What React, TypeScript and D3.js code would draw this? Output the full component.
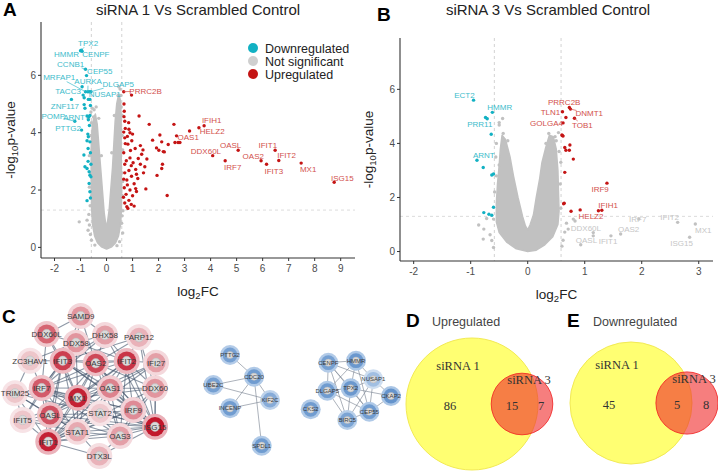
import React from "react";
import * as d3 from "d3";

type P = [number, number];
type Lab = { g: string; x: number; y: number; lx: number; ly: number; k: string };

// ---------- A: siRNA 1 vs scrambled ----------
const upA: P[] = [
  [0.66, 5.43], [0.96, 5.31], [0.67, 5.0], [0.68, 4.75], [1.25, 4.58], [0.67, 4.56], [0.7, 4.4], [0.85, 4.35],
  [0.72, 4.15], [0.9, 4.0], [1.64, 4.29], [2.59, 4.29], [3.19, 4.06], [3.55, 4.17], [3.75, 4.24], [2.69, 3.89],
  [2.63, 3.66], [2.75, 3.66], [2.82, 3.66], [2.05, 3.92], [1.77, 3.74], [2.12, 3.68], [2.37, 3.59], [1.92, 3.47],
  [2.01, 3.39], [2.18, 3.34], [5.06, 3.39], [4.08, 3.2], [4.56, 3.02], [5.94, 3.02], [6.15, 2.9], [6.48, 3.39],
  [6.62, 3.03], [7.48, 2.94], [8.75, 2.27], [2.33, 1.81], [1.51, 2.04], [1.94, 2.51], [2.15, 2.9], [2.12, 2.75],
  [2.22, 3.33], [1.47, 2.81], [1.55, 3.08], [1.35, 3.25], [1.3, 3.55], [1.1, 3.45], [0.92, 3.38], [0.7, 3.82],
  [0.8, 3.87], [0.72, 3.62], [0.97, 3.72], [0.66, 3.3], [0.76, 3.02], [0.9, 3.12], [1.02, 2.95], [1.12, 2.72],
  [0.86, 2.68], [0.7, 2.6], [0.66, 2.38], [0.96, 2.48], [1.2, 2.4], [1.06, 2.22], [0.8, 2.18], [0.68, 2.08],
  [0.9, 2.0], [1.12, 2.05], [0.75, 1.85], [1.0, 1.8], [0.86, 1.64], [0.7, 1.55], [0.95, 1.5], [1.06, 1.44],
  [0.82, 1.36], [0.78, 1.42], [1.3, 2.9], [1.42, 2.6], [1.22, 3.1], [0.66, 4.02], [0.86, 4.12], [1.0, 3.95],
  [0.78, 2.35], [0.95, 2.85], [1.15, 1.95], [0.65, 1.75], [1.15, 2.55], [0.7, 2.9], [1.4, 3.4], [0.82, 3.6],
];
const downA: P[] = [
  [-0.97, 6.88], [-1.0, 6.86], [-0.94, 6.84], [-0.81, 6.21], [-0.77, 5.99], [-0.94, 5.6], [-0.81, 5.43],
  [-0.72, 5.43], [-0.66, 5.43], [-0.6, 5.43], [-0.9, 5.31], [-0.86, 5.22], [-0.64, 5.16], [-0.7, 5.16],
  [-1.35, 5.16], [-0.86, 4.98], [-0.83, 4.85], [-0.62, 4.95], [-1.22, 4.4], [-0.75, 4.58], [-0.68, 4.56],
  [-0.64, 4.6], [-0.7, 4.45], [-0.96, 4.09], [-0.7, 3.86], [-0.64, 3.68], [-0.72, 3.95], [-0.75, 3.72],
  [-0.71, 3.45], [-0.87, 3.22], [-0.71, 3.0], [-0.83, 2.81], [-0.75, 2.75], [-0.67, 2.64], [-0.64, 2.52],
  [-0.6, 2.46], [-0.67, 2.23], [-0.64, 1.94], [-0.75, 1.63], [-0.62, 1.72], [-0.66, 4.25], [-0.62, 3.3], [-0.6, 2.9],
];
const nsA: P[] = [
  [-1.05, 0.89], [-0.75, 0.95], [-0.71, 0.6], [-0.66, 0.78], [-0.62, 0.45], [-0.68, 1.15], [-0.63, 1.45],
  [0.58, 0.84], [0.62, 0.5], [0.6, 1.1], [0.63, 1.28], [-0.7, 4.5], [-0.6, 4.72], [-0.55, 4.85], [-0.48, 4.8],
  [0.55, 5.3], [0.52, 5.52], [0.47, 5.6], [0.56, 4.9], [-0.4, 4.9], [-0.58, 0.25], [0.5, 0.2], [-0.45, 0.08],
  [0.4, 0.06], [-0.66, 3.2], [-0.66, 2.1], [0.62, 3.4], [0.62, 2.3], [-0.58, 4.35], [0.6, 4.6], [-0.5, 4.55],
  [0.44, 5.3], [-0.6, 3.9], [-0.6, 2.6], [-0.58, 1.8], [0.6, 3.9], [0.6, 2.6], [0.6, 1.8], [-0.3, 4.5],
  [0.3, 4.6], [-0.2, 3.2], [0.2, 3.3], [-0.55, 3.4], [0.55, 4.1],
];
// outline of the dense grey cloud (not significant genes)
const cloudA: P[] = [
  [0, -0.06], [-0.2, 0.02], [-0.34, 0.15], [-0.46, 0.4], [-0.54, 0.8], [-0.57, 1.3], [-0.59, 2.0], [-0.59, 2.8],
  [-0.59, 3.5], [-0.56, 4.1], [-0.5, 4.5], [-0.43, 4.65], [-0.36, 4.3], [-0.3, 3.6], [-0.23, 2.8], [-0.16, 2.0],
  [-0.09, 1.2], [-0.03, 0.8], [0, 0.72], [0.03, 0.85], [0.1, 1.3], [0.16, 2.0], [0.23, 2.8], [0.28, 3.6],
  [0.33, 4.4], [0.39, 5.0], [0.47, 5.35], [0.54, 5.1], [0.56, 4.5], [0.56, 3.6], [0.57, 2.8], [0.58, 2.0],
  [0.57, 1.3], [0.54, 0.8], [0.46, 0.4], [0.34, 0.15], [0.2, 0.02],
];
const labelsA: Lab[] = [
  { g: "TPX2", x: -0.97, y: 6.88, lx: -0.71, ly: 7.12, k: "d" },
  { g: "HMMR", x: -1.0, y: 6.86, lx: -1.54, ly: 6.75, k: "d" },
  { g: "CENPF", x: -0.94, y: 6.84, lx: -0.41, ly: 6.75, k: "d" },
  { g: "CCNB1", x: -0.81, y: 6.21, lx: -1.38, ly: 6.4, k: "d" },
  { g: "CEP55", x: -0.77, y: 5.99, lx: -0.26, ly: 6.16, k: "d" },
  { g: "MRFAP1", x: -0.81, y: 5.43, lx: -1.82, ly: 5.92, k: "d" },
  { g: "AURKA", x: -0.72, y: 5.43, lx: -0.71, ly: 5.78, k: "d" },
  { g: "DLGAP5", x: -0.6, y: 5.43, lx: 0.45, ly: 5.69, k: "d" },
  { g: "TACC3", x: -0.9, y: 5.31, lx: -1.48, ly: 5.43, k: "d" },
  { g: "NUSAP1", x: -0.66, y: 5.43, lx: -0.07, ly: 5.34, k: "d" },
  { g: "ZNF117", x: -1.35, y: 5.16, lx: -1.6, ly: 4.94, k: "d" },
  { g: "POMP", x: -1.22, y: 4.4, lx: -2.05, ly: 4.58, k: "d" },
  { g: "ARNT", x: -0.75, y: 4.58, lx: -1.25, ly: 4.53, k: "d" },
  { g: "PTTG2", x: -0.96, y: 4.09, lx: -1.48, ly: 4.17, k: "d" },
  { g: "PRRC2B", x: 0.66, y: 5.43, lx: 1.5, ly: 5.45, k: "u" },
  { g: "IFIH1", x: 3.75, y: 4.24, lx: 4.04, ly: 4.44, k: "u" },
  { g: "HELZ2", x: 3.55, y: 4.17, lx: 4.06, ly: 4.06, k: "u" },
  { g: "OAS1", x: 2.69, y: 3.89, lx: 3.14, ly: 3.86, k: "u" },
  { g: "DDX60L", x: 4.08, y: 3.2, lx: 3.82, ly: 3.36, k: "u" },
  { g: "OASL", x: 5.06, y: 3.39, lx: 4.77, ly: 3.57, k: "u" },
  { g: "IRF7", x: 4.56, y: 3.02, lx: 4.85, ly: 2.81, k: "u" },
  { g: "OAS2", x: 5.94, y: 3.02, lx: 5.64, ly: 3.18, k: "u" },
  { g: "IFIT3", x: 6.15, y: 2.9, lx: 6.43, ly: 2.67, k: "u" },
  { g: "IFIT1", x: 6.48, y: 3.39, lx: 6.2, ly: 3.56, k: "u" },
  { g: "IFIT2", x: 6.62, y: 3.03, lx: 6.92, ly: 3.21, k: "u" },
  { g: "MX1", x: 7.48, y: 2.94, lx: 7.75, ly: 2.72, k: "u" },
  { g: "ISG15", x: 8.75, y: 2.27, lx: 9.06, ly: 2.43, k: "u" },
];

// ---------- B: siRNA 3 vs scrambled ----------
const upB: P[] = [
  [0.73, 5.33], [0.75, 5.27], [0.61, 5.17], [0.67, 4.96], [0.62, 4.76], [0.82, 4.93], [0.6, 4.31], [0.62, 4.27],
  [0.65, 3.85], [0.74, 3.94], [0.73, 3.75], [0.67, 3.75], [0.8, 3.42], [0.65, 2.93], [1.39, 2.53], [0.64, 1.79],
  [0.63, 1.77], [0.76, 1.49], [0.92, 1.54], [1.3, 1.53], [1.24, 1.51], [0.61, 4.29],
];
const downB: P[] = [
  [-0.95, 5.6], [-0.62, 5.15], [-0.74, 4.96], [-0.71, 4.91], [-0.64, 4.34], [-0.89, 3.38], [-0.78, 3.11],
  [-0.63, 2.83], [-0.6, 2.87], [-0.6, 1.64], [-0.77, 1.44], [-0.68, 1.38], [-0.63, 1.34],
];
const nsB: P[] = [
  [-0.86, 0.98], [-0.77, 0.83], [-0.78, 0.46], [-0.63, 0.41], [-0.66, 0.62], [-0.6, 1.2], [-0.72, 1.22],
  [0.68, 1.05], [0.8, 1.2], [0.83, 1.13], [0.65, 0.72], [0.62, 0.42], [0.71, 0.83], [0.93, 0.25], [1.15, 0.7],
  [1.15, 0.58], [1.46, 0.58], [1.63, 0.65], [1.95, 1.2], [2.63, 1.08], [2.94, 1.02], [2.84, 0.53], [-0.44, 4.92],
  [-0.5, 4.68], [-0.5, 4.77], [-0.43, 4.37], [0.37, 4.37], [0.48, 4.25], [0.54, 4.4], [0.5, 4.1], [-0.55, 4.0],
  [0.58, 1.6], [-0.58, 2.2], [0.6, 0.2], [-0.6, 0.15], [0.58, 3.3], [-0.56, 3.5], [-0.55, 2.8], [0.57, 2.5],
  [-0.5, 3.2], [0.55, 3.7], [-0.35, 4.1], [0.32, 4.0],
];
const cloudB: P[] = [
  [0, 0.0], [-0.2, 0.1], [-0.37, 0.35], [-0.5, 0.7], [-0.55, 1.1], [-0.55, 1.8], [-0.53, 2.5], [-0.5, 3.2],
  [-0.48, 3.8], [-0.45, 4.3], [-0.39, 4.15], [-0.31, 3.5], [-0.25, 2.8], [-0.17, 2.0], [-0.09, 1.3], [-0.04, 0.95],
  [0, 0.8], [0.04, 0.98], [0.1, 1.35], [0.15, 2.0], [0.21, 2.7], [0.25, 3.3], [0.31, 3.8], [0.38, 4.3],
  [0.45, 4.25], [0.5, 3.8], [0.53, 3.0], [0.54, 2.2], [0.55, 1.5], [0.53, 1.0], [0.44, 0.55], [0.3, 0.25], [0.15, 0.05],
];
const labelsB: Lab[] = [
  { g: "ECT2", x: -0.95, y: 5.6, lx: -1.11, ly: 5.78, k: "d" },
  { g: "HMMR", x: -0.62, y: 5.15, lx: -0.49, ly: 5.33, k: "d" },
  { g: "PRR11", x: -0.74, y: 4.96, lx: -0.84, ly: 4.7, k: "d" },
  { g: "ARNT", x: -0.89, y: 3.38, lx: -0.77, ly: 3.58, k: "d" },
  { g: "PRRC2B", x: 0.73, y: 5.33, lx: 0.64, ly: 5.51, k: "u" },
  { g: "TLN1", x: 0.61, y: 5.17, lx: 0.4, ly: 5.17, k: "u" },
  { g: "DNMT1", x: 0.75, y: 5.27, lx: 1.08, ly: 5.11, k: "u" },
  { g: "GOLGA4", x: 0.62, y: 4.76, lx: 0.33, ly: 4.76, k: "u" },
  { g: "TOB1", x: 0.82, y: 4.93, lx: 0.96, ly: 4.68, k: "u" },
  { g: "IRF9", x: 1.39, y: 2.53, lx: 1.27, ly: 2.3, k: "u" },
  { g: "IFIH1", x: 1.3, y: 1.53, lx: 1.41, ly: 1.71, k: "u" },
  { g: "HELZ2", x: 1.24, y: 1.51, lx: 1.11, ly: 1.31, k: "u" },
  { g: "DDX60L", x: 0.71, y: 0.83, lx: 1.02, ly: 0.86, k: "n" },
  { g: "OASL", x: 0.93, y: 0.25, lx: 1.03, ly: 0.41, k: "n" },
  { g: "IFIT1", x: 1.46, y: 0.58, lx: 1.41, ly: 0.37, k: "n" },
  { g: "OAS2", x: 1.63, y: 0.65, lx: 1.77, ly: 0.83, k: "n" },
  { g: "IRF7", x: 1.95, y: 1.2, lx: 1.93, ly: 1.2, k: "n" },
  { g: "IFIT2", x: 2.63, y: 1.08, lx: 2.49, ly: 1.27, k: "n" },
  { g: "ISG15", x: 2.84, y: 0.53, lx: 2.7, ly: 0.3, k: "n" },
  { g: "MX1", x: 2.94, y: 1.02, lx: 3.08, ly: 0.78, k: "n" },
];

// ---------- C: STRING networks (layout coords, ring intensity) ----------
const redNodes = [
  { id: "SAMD9", x: 80.7, y: 316, v: 0.35 }, { id: "DDX60L", x: 46.7, y: 334, v: 0.6 },
  { id: "DHX58", x: 105, y: 335, v: 0.3 }, { id: "PARP12", x: 139, y: 337.3, v: 0.2 },
  { id: "DDX58", x: 76, y: 342.7, v: 0.35 }, { id: "ZC3HAV1", x: 30, y: 360.7, v: 0.1 },
  { id: "IFIT3", x: 62.7, y: 360.7, v: 0.8 }, { id: "OAS2", x: 95.7, y: 363.3, v: 0.75 },
  { id: "IFIT2", x: 126.7, y: 361, v: 0.85 }, { id: "IFI27", x: 156, y: 362.7, v: 0.3 },
  { id: "IRF7", x: 41.7, y: 388, v: 0.65 }, { id: "TRIM25", x: 15, y: 393.3, v: 0.1 },
  { id: "OAS1", x: 110, y: 388.3, v: 0.45 }, { id: "DDX60", x: 155, y: 388.3, v: 0.35 },
  { id: "MX1", x: 77.7, y: 397.7, v: 0.95 }, { id: "OASL", x: 50, y: 415, v: 0.7 },
  { id: "STAT2", x: 100, y: 413.3, v: 0.08 }, { id: "IRF9", x: 133.3, y: 410, v: 0.4 },
  { id: "IFIT5", x: 22.7, y: 420, v: 0.1 }, { id: "ISG15", x: 155, y: 426.7, v: 1.0 },
  { id: "STAT1", x: 77.3, y: 431.7, v: 0.25 }, { id: "OAS3", x: 120, y: 436, v: 0.3 },
  { id: "IFIT1", x: 48.3, y: 441.7, v: 0.95 }, { id: "DTX3L", x: 99.3, y: 456, v: 0.2 },
];
const redEdges = [
  "SAMD9|DDX58", "SAMD9|DHX58", "SAMD9|IFIT3", "SAMD9|OAS2", "SAMD9|DDX60L", "DDX60L|DDX58", "DDX60L|IFIT3",
  "DDX60L|IRF7", "DDX60L|MX1", "DHX58|DDX58", "DHX58|IFIT2", "DHX58|OAS2", "DHX58|ISG15", "DHX58|IRF7",
  "DHX58|IFIT3", "PARP12|IFIT2", "PARP12|OAS2", "PARP12|ISG15", "PARP12|IFIT3", "PARP12|DDX60", "DDX58|IFIT3",
  "DDX58|OAS2", "DDX58|IRF7", "DDX58|MX1", "DDX58|ISG15", "DDX58|IFIT2", "ZC3HAV1|IFIT3", "ZC3HAV1|TRIM25",
  "ZC3HAV1|DDX58", "ZC3HAV1|IRF7", "TRIM25|IRF7", "TRIM25|ISG15", "TRIM25|MX1", "TRIM25|OASL", "TRIM25|IFIT1",
  "TRIM25|STAT1", "TRIM25|IFIT5", "IFI27|IFIT2", "IFI27|ISG15", "IFI27|MX1", "IFI27|OAS1", "IFI27|IFIT1",
  "IFI27|DDX60", "DDX60|IFIT2", "DDX60|ISG15", "DDX60|MX1", "DDX60|OAS1", "DDX60|IFIT1", "DDX60|OAS2",
  "DDX60|IRF9", "DDX60|OAS3", "IFIT5|IFIT1", "IFIT5|IFIT3", "IFIT5|IRF7", "IFIT5|OASL", "IFIT5|MX1",
  "IFIT5|ISG15", "IFIT5|STAT1", "DTX3L|STAT1", "DTX3L|ISG15", "DTX3L|IFIT1", "DTX3L|OAS3",
  "MX1|ISG15", "MX1|IFIT1", "MX1|IFIT3", "MX1|IFIT2", "MX1|OAS1", "MX1|OAS2", "MX1|OAS3", "MX1|IRF7", "MX1|OASL",
  "MX1|STAT1", "MX1|STAT2", "MX1|IRF9", "ISG15|IFIT1", "ISG15|IFIT3", "ISG15|IFIT2", "ISG15|OAS1", "ISG15|OAS2",
  "ISG15|OAS3", "ISG15|IRF7", "ISG15|OASL", "ISG15|STAT1", "ISG15|STAT2", "ISG15|IRF9", "IFIT1|IFIT3",
  "IFIT1|IFIT2", "IFIT1|OAS1", "IFIT1|OAS2", "IFIT1|OAS3", "IFIT1|IRF7", "IFIT1|OASL", "IFIT1|STAT1",
  "IFIT1|STAT2", "IFIT1|IRF9", "IFIT3|IFIT2", "IFIT3|OAS1", "IFIT3|OAS2", "IFIT3|IRF7", "IFIT3|OASL",
  "IFIT3|STAT1", "IFIT3|IRF9", "IFIT2|OAS1", "IFIT2|OAS2", "IFIT2|IRF7", "IFIT2|OASL", "IFIT2|IRF9",
  "IFIT2|OAS3", "OAS1|OAS2", "OAS1|OAS3", "OAS1|IRF7", "OAS1|OASL", "OAS1|STAT1", "OAS1|STAT2", "OAS1|IRF9",
  "OAS2|OAS3", "OAS2|IRF7", "OAS2|OASL", "OAS2|STAT1", "OAS2|IRF9", "OAS3|IRF7", "OAS3|OASL", "OAS3|STAT1",
  "OAS3|IRF9", "IRF7|OASL", "IRF7|STAT1", "IRF7|STAT2", "IRF7|IRF9", "OASL|STAT1", "OASL|STAT2",
  "STAT1|STAT2", "STAT1|IRF9", "STAT2|IRF9",
];
const blueNodes = [
  { id: "PTTG2", x: 230, y: 355, v: 0.6 }, { id: "UBE2C", x: 213.3, y: 385, v: 0.6 },
  { id: "INCENP", x: 230, y: 408.3, v: 0.65 }, { id: "CDC20", x: 254, y: 376.7, v: 0.65 },
  { id: "KIF2C", x: 270, y: 400, v: 0.45 }, { id: "SPDL1", x: 261.7, y: 445.7, v: 0.65 },
  { id: "CENPF", x: 328.3, y: 362.7, v: 0.6 }, { id: "HMMR", x: 356, y: 360.7, v: 0.7 },
  { id: "NUSAP1", x: 373.3, y: 379.3, v: 0.2 }, { id: "DLGAP5", x: 327.3, y: 390.7, v: 0.65 },
  { id: "TPX2", x: 350.7, y: 388.3, v: 0.7 }, { id: "CKAP2", x: 391, y: 396, v: 0.75 },
  { id: "CKS2", x: 310.7, y: 409.3, v: 0.65 }, { id: "CEP55", x: 369.3, y: 411.7, v: 0.65 },
  { id: "BIRC5", x: 347.3, y: 420, v: 0.55 },
];
const blueEdges = [
  "PTTG2|CDC20", "UBE2C|CDC20", "UBE2C|KIF2C", "INCENP|CDC20", "INCENP|KIF2C", "CDC20|KIF2C", "CDC20|SPDL1",
  "CENPF|HMMR", "CENPF|TPX2", "CENPF|DLGAP5", "CENPF|NUSAP1", "CENPF|CEP55", "CENPF|BIRC5", "HMMR|TPX2",
  "HMMR|NUSAP1", "HMMR|DLGAP5", "HMMR|CEP55", "TPX2|DLGAP5", "TPX2|NUSAP1", "TPX2|CEP55", "TPX2|BIRC5",
  "TPX2|CKAP2", "DLGAP5|BIRC5", "DLGAP5|CEP55", "NUSAP1|CEP55", "NUSAP1|CKAP2", "CEP55|BIRC5", "CEP55|CKAP2",
  "BIRC5|NUSAP1",
];

// ---------- D / E: Venn counts ----------
const vennUp = { only1: 86, both: 15, only3: 7 };
const vennDown = { only1: 45, both: 5, only3: 8 };

const FONT = "'Liberation Sans', Arial, Helvetica, sans-serif";
const SERIF = "'Liberation Serif', 'Times New Roman', serif";
const CYAN = "#12b1c3";
const RED = "#c41414";
const GREY = "#c1c1c1";
const LABCOL: Record<string, string> = { d: "#3dbccb", u: "#d24f4c", n: "#c6c6c6" };
const FC_CUT = Math.log2(1.5);
const P_CUT = -Math.log10(0.05);

function Volcano(p: any) {
  const { box } = p;
  const x = d3.scaleLinear().domain(p.xDom).range([box.l, box.r]);
  const y = d3.scaleLinear().domain(p.yDom).range([box.b, box.t]);
  const cloud = d3.line<P>().x(d => x(d[0])).y(d => y(d[1])).curve(d3.curveLinearClosed)(p.cloud) || "";
  const dots = (arr: P[], fill: string, r = 1.7) =>
    arr.map((d, i) => <circle key={i} cx={x(d[0])} cy={y(d[1])} r={r} fill={fill} />);
  const midX = (box.l + box.r) / 2;
  const midY = (box.t + box.b) / 2;
  return (
    <g fontFamily={FONT}>
      <text x={p.letterPos[0]} y={p.letterPos[1]} fontSize={19} fontWeight="bold">{p.letter}</text>
      <text x={p.titleX} y={15} textAnchor="middle" fontSize={15} fill="#222">{p.title}</text>
      {[-FC_CUT, FC_CUT].map(v => (
        <line key={v} x1={x(v)} x2={x(v)} y1={box.t} y2={box.b} stroke="#d2d2d2" strokeDasharray="3,3" />
      ))}
      <line x1={box.l} x2={box.r} y1={y(P_CUT)} y2={y(P_CUT)} stroke="#dcdcdc" strokeDasharray="3,3" />
      <path d={cloud} fill={GREY} stroke={GREY} strokeWidth={1.5} strokeLinejoin="round" />
      {dots(p.ns, GREY)}
      {dots(p.down, CYAN)}
      {dots(p.up, RED)}
      {p.labels.map((l: Lab, i: number) => {
        const px = x(l.x), py = y(l.y), lx = x(l.lx), ly = y(l.ly);
        const hw = l.g.length * 2.35 + 1, hh = 4;
        const dx = px - lx, dy = py - ly;
        const t = Math.min(dx ? hw / Math.abs(dx) : Infinity, dy ? hh / Math.abs(dy) : Infinity);
        const ex = lx + dx * Math.min(t, 1), ey = ly + dy * Math.min(t, 1);
        const len = Math.hypot(px - ex, py - ey);
        const col = LABCOL[l.k];
        return (
          <g key={i}>
            {t < 1 && len > 4 && <line x1={px} y1={py} x2={ex} y2={ey} stroke={col} strokeWidth={0.7} />}
            <text x={lx} y={ly} dy="0.35em" textAnchor="middle" fontSize={8} fill={col}>{l.g}</text>
          </g>
        );
      })}
      <line x1={box.l} x2={box.r} y1={box.b} y2={box.b} stroke="#333" strokeWidth={1.1} />
      <line x1={box.l} x2={box.l} y1={box.t} y2={box.b} stroke="#333" strokeWidth={1.1} />
      {p.xTicks.map((v: number) => (
        <g key={v}>
          <line x1={x(v)} x2={x(v)} y1={box.b} y2={box.b + 3} stroke="#333" />
          <text x={x(v)} y={box.b + 14} textAnchor="middle" fontSize={10} fill="#4d4d4d">{v}</text>
        </g>
      ))}
      {p.yTicks.map((v: number) => (
        <g key={v}>
          <line x1={box.l - 3} x2={box.l} y1={y(v)} y2={y(v)} stroke="#333" />
          <text x={box.l - 5} y={y(v)} dy="0.35em" textAnchor="end" fontSize={10} fill="#4d4d4d">{v}</text>
        </g>
      ))}
      <text x={midX} y={box.b + 38} textAnchor="middle" fontSize={13.5} fill="#222">
        log<tspan fontSize={9.5} dy={3}>2</tspan><tspan dy={-3}>FC</tspan>
      </text>
      <text transform={`translate(${p.yTitleX},${midY}) rotate(-90)`} textAnchor="middle" fontSize={13.5} fill="#222">
        -log<tspan fontSize={9.5} dy={3}>10</tspan><tspan dy={-3}>p-value</tspan>
      </text>
      {p.legend && ["Downregulated", "Not significant", "Upregulated"].map((s, i) => (
        <g key={s}>
          <circle cx={253} cy={48 + i * 13} r={5} fill={[CYAN, "#cfcfcf", RED][i]} />
          <text x={265} y={48 + i * 13} dy="0.36em" fontSize={12.5} fill="#222">{s}</text>
        </g>
      ))}
    </g>
  );
}

function Network({ nodes, edges, blue }: any) {
  const byId = new Map(nodes.map((n: any) => [n.id, n]));
  const sx = d3.scaleLinear().domain([0, 1]).range([0, 1]);
  const ring = blue
    ? d3.scaleLinear<string>().domain([0, 1]).range(["#b7cfea", "#4a80c2"])
    : d3.scaleLinear<string>().domain([0, 1]).range(["#f3d9dc", "#c2172c"]);
  const halo = blue
    ? d3.scaleLinear<string>().domain([0, 1]).range(["#dbe7f4", "#98b9e0"])
    : d3.scaleLinear<string>().domain([0, 1]).range(["#f8e9eb", "#eab0b8"]);
  const R = blue ? 10 : 13;
  return (
    <g fontFamily={FONT}>
      {edges.map((e: string, i: number) => {
        const [a, b] = e.split("|").map(k => byId.get(k) as any);
        return (
          <line key={i} x1={sx(a.x)} y1={sx(a.y)} x2={sx(b.x)} y2={sx(b.y)}
            stroke={blue ? "#7d8694" : "#43536b"} strokeOpacity={blue ? 0.8 : 0.6} strokeWidth={blue ? 0.8 : 1.1} />
        );
      })}
      {nodes.map((n: any) => (
        <g key={n.id} transform={`translate(${sx(n.x)},${sx(n.y)})`}>
          <circle r={R} fill={halo(n.v)} />
          <circle r={R * 0.74} fill={ring(n.v)} />
          <circle r={R * 0.36} fill="#dadada" stroke="#b8b8b8" strokeWidth={0.5} />
          <text dy="0.35em" textAnchor="middle" fontSize={blue ? 6 : 8} fill="#3a3a3a">{n.id}</text>
        </g>
      ))}
    </g>
  );
}

function Venn({ data, cx, cy, rBig, dist, letter, heading, hx }: any) {
  const n1 = data.only1 + data.both, n3 = data.only3 + data.both;
  const r = d3.scaleSqrt().domain([0, n1]).range([0, rBig]);
  const c3 = cx + dist;
  return (
    <g>
      <text x={hx - 26} y={327} fontFamily={FONT} fontSize={19} fontWeight="bold">{letter}</text>
      <text x={hx} y={326} fontFamily={FONT} fontSize={12.5} fill="#444">{heading}</text>
      <circle cx={cx} cy={cy} r={r(n1)} fill="#ffff72" stroke="#f2ea55" strokeWidth={1} />
      <circle cx={c3} cy={cy} r={r(n3)} fill="rgba(240,40,40,0.6)" stroke="rgba(240,30,30,0.8)" strokeWidth={1} />
      <g fontFamily={SERIF} fontSize={12.5} fill="#333" textAnchor="middle">
        <text x={cx - 14} y={cy - 34}>siRNA 1</text>
        <text x={c3 + 7} y={cy - 20}>siRNA 3</text>
        <text x={cx - 22} y={cy + 6}>{data.only1}</text>
        <text x={c3 - 10} y={cy + 6}>{data.both}</text>
        <text x={c3 + 19} y={cy + 6}>{data.only3}</text>
      </g>
    </g>
  );
}

export default function App() {
  return (
    <svg width={718} height={472} style={{ position: "absolute", left: 0, top: 0, background: "#fff" }}>
      <Volcano
        box={{ l: 41, r: 355, t: 22, b: 258 }} xDom={[-2.52, 9.55]} yDom={[-0.37, 7.86]}
        xTicks={[-2, -1, 0, 1, 2, 3, 4, 5, 6, 7, 8, 9]} yTicks={[0, 2, 4, 6]}
        up={upA} down={downA} ns={nsA} cloud={cloudA} labels={labelsA}
        title="siRNA 1 Vs Scrambled Control" titleX={198} letter="A" letterPos={[3, 16]} yTitleX={15} legend
      />
      <Volcano
        box={{ l: 400, r: 713, t: 38, b: 261 }} xDom={[-2.24, 3.25]} yDom={[-0.35, 7.9]}
        xTicks={[-2, -1, 0, 1, 2, 3]} yTicks={[0, 2, 4, 6]}
        up={upB} down={downB} ns={nsB} cloud={cloudB} labels={labelsB}
        title="siRNA 3 Vs Scrambled Control" titleX={548} letter="B" letterPos={[377, 21]} yTitleX={373}
      />
      <text x={2} y={323} fontFamily={FONT} fontSize={19} fontWeight="bold">C</text>
      <Network nodes={redNodes} edges={redEdges} />
      <Network nodes={blueNodes} edges={blueEdges} blue />
      <Venn data={vennUp} cx={472} cy={404} rBig={66} dist={50} letter="D" heading="Upregulated" hx={432} />
      <Venn data={vennDown} cx={631} cy={403} rBig={61} dist={56} letter="E" heading="Downregulated" hx={593} />
    </svg>
  );
}
